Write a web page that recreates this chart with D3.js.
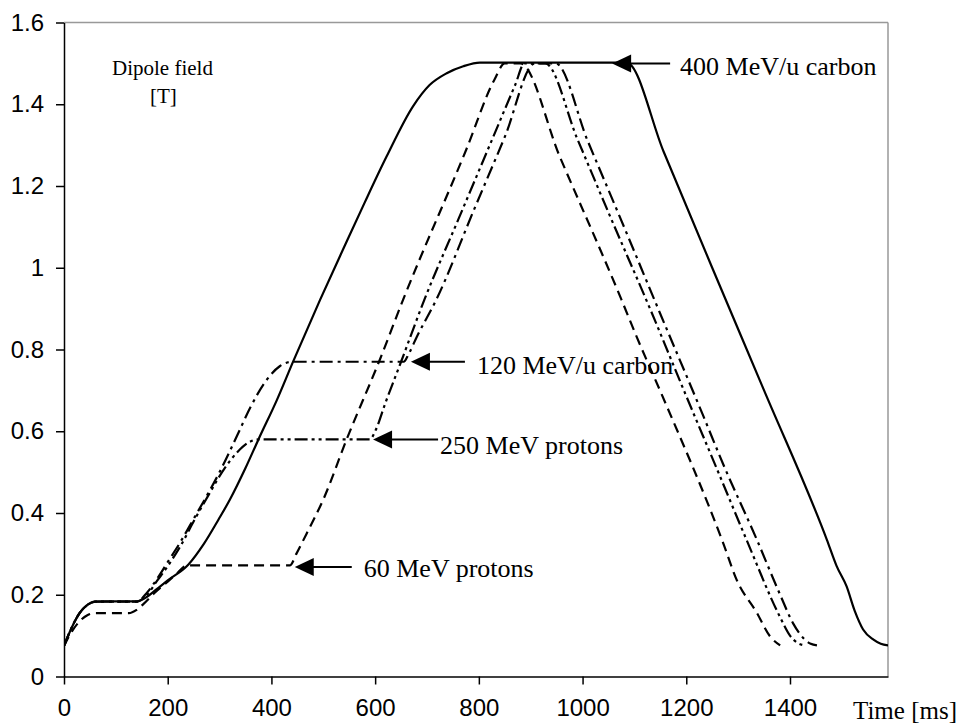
<!DOCTYPE html>
<html>
<head>
<meta charset="utf-8">
<script src="https://cdnjs.cloudflare.com/ajax/libs/d3/7.8.5/d3.min.js"></script>
<style>
  html, body { margin: 0; padding: 0; background: #fff; }
  svg { display: block; }
</style>
</head>
<body>
<svg id="chart" width="962" height="725"></svg>
<script>
// ---------------- DATA ----------------
const xTicks = [0, 200, 400, 600, 800, 1000, 1200, 1400];
const yTicks = [0, 0.2, 0.4, 0.6, 0.8, 1.0, 1.2, 1.4, 1.6];
const yTickLabels = ["0", "0.2", "0.4", "0.6", "0.8", "1", "1.2", "1.4", "1.6"];
const xMax = 1589;
const yMax = 1.6;

// [time ms, dipole field T]
const carbon400 = [[0,0.075],[15,0.12],[30,0.155],[45,0.175],[60,0.183],[80,0.184],[140,0.184],[160,0.195],[175,0.21],[200,0.235],[240,0.274],[270,0.325],[298,0.384],[320,0.433],[350,0.51],[375,0.58],[410,0.675],[442,0.771],[494,0.922],[540,1.05],[580,1.16],[622,1.272],[673,1.395],[705,1.447],[738,1.476],[770,1.493],[802,1.502],[1085,1.502],[1156,1.285],[1250,1.0],[1350,0.7],[1471,0.335],[1490,0.27],[1509,0.221],[1525,0.16],[1541,0.115],[1561,0.09],[1575,0.08],[1589,0.076]];
const carbon120 = [[0,0.075],[15,0.12],[30,0.155],[45,0.175],[60,0.183],[140,0.183],[160,0.205],[180,0.24],[200,0.28],[225,0.33],[252,0.39],[281,0.455],[300,0.5],[333,0.587],[360,0.66],[391,0.726],[416,0.759],[440,0.77],[655,0.77],[665,0.79],[680,0.83],[718,0.922],[790,1.14],[850,1.32],[908,1.5],[948,1.5],[1010,1.31],[1070,1.13],[1149,0.89],[1232,0.64],[1271,0.52],[1336,0.335],[1381,0.2],[1406,0.13],[1425,0.095],[1440,0.08],[1452,0.076]];
const protons250 = [[0,0.075],[15,0.12],[30,0.155],[45,0.175],[60,0.183],[140,0.183],[160,0.2],[180,0.235],[200,0.27],[225,0.32],[252,0.384],[281,0.449],[310,0.51],[335,0.55],[355,0.572],[375,0.58],[590,0.58],[600,0.6],[620,0.67],[650,0.77],[695,0.922],[760,1.117],[820,1.297],[870,1.447],[888,1.5],[928,1.5],[990,1.315],[1050,1.135],[1130,0.9],[1197,0.695],[1260,0.505],[1316,0.335],[1381,0.145],[1400,0.1],[1415,0.082],[1430,0.076]];
const protons60 = [[0,0.075],[15,0.11],[30,0.135],[45,0.15],[60,0.155],[125,0.155],[140,0.163],[152,0.176],[175,0.205],[200,0.232],[220,0.255],[237,0.272],[436,0.272],[448,0.3],[470,0.355],[500,0.433],[545,0.58],[609,0.775],[654,0.922],[776,1.29],[830,1.46],[850,1.5],[880,1.5],[956,1.272],[1075,0.922],[1104,0.832],[1153,0.689],[1271,0.327],[1297,0.237],[1336,0.156],[1361,0.099],[1381,0.076]];

const annLabels = ["400 MeV/u carbon", "120 MeV/u carbon", "250 MeV protons", "60 MeV protons"];
const annTime   = [1057, 669, 596, 445];
const annField  = [1.5, 0.77, 0.58, 0.268];

// ---------------- LAYOUT / STYLE ----------------
const plot = { left: 64, right: 888, top: 22.5, bottom: 676.5 };
const seriesStyles = [
  { data: carbon400,  dash: null },
  { data: carbon120,  dash: "13,5,3,5" },
  { data: protons250, dash: "13,4,3,4,3,4" },
  { data: protons60,  dash: "10,6" }
];
const annLayout = [
  { lineEnd: 58, textDx: 68, textDy: 12 },
  { lineEnd: 54, textDx: 66, textDy: 12 },
  { lineEnd: 65, textDx: 67, textDy: 15 },
  { lineEnd: 57, textDx: 69, textDy: 10 }
];
const sans = "'Liberation Sans', Arial, sans-serif";
const serif = "'Liberation Serif', 'Times New Roman', serif";

const svg = d3.select("#chart");
const x = d3.scaleLinear().domain([0, xMax]).range([plot.left, plot.right]);
const y = d3.scaleLinear().domain([0, yMax]).range([plot.bottom, plot.top]);

// frame (top & right grey)
svg.append("line").attr("x1", plot.left).attr("x2", plot.right).attr("y1", plot.top).attr("y2", plot.top)
  .attr("stroke", "#999").attr("stroke-width", 1.5);
svg.append("line").attr("x1", plot.right).attr("x2", plot.right).attr("y1", plot.top).attr("y2", plot.bottom)
  .attr("stroke", "#999").attr("stroke-width", 1.5);

// clip
svg.append("clipPath").attr("id", "clip").append("rect")
  .attr("x", plot.left).attr("y", plot.top - 3)
  .attr("width", plot.right - plot.left).attr("height", plot.bottom - plot.top + 3);

// series
const line = d3.line().x(d => x(d[0])).y(d => y(d[1])).curve(d3.curveMonotoneX);
const g = svg.append("g").attr("clip-path", "url(#clip)");
seriesStyles.forEach(s => {
  g.append("path").datum(s.data)
    .attr("d", line)
    .attr("fill", "none")
    .attr("stroke", "#000")
    .attr("stroke-width", 2.2)
    .attr("stroke-linejoin", "round")
    .attr("stroke-dasharray", s.dash);
});

// axes
const xAxis = d3.axisBottom(x).tickValues(xTicks).tickSize(8).tickSizeOuter(0).tickPadding(14)
  .tickFormat(d3.format("d"));
const gx = svg.append("g").attr("transform", `translate(0,${plot.bottom})`).call(xAxis);
gx.select(".domain").attr("stroke", "#000").attr("stroke-width", 1.5);
gx.selectAll(".tick line").attr("stroke", "#000").attr("stroke-width", 1.5);
gx.selectAll(".tick text").attr("font-family", sans).attr("font-size", 24).attr("fill", "#000");

const yAxis = d3.axisLeft(y).tickValues(yTicks).tickSize(8).tickSizeOuter(0).tickPadding(12)
  .tickFormat((d, i) => yTickLabels[i]);
const gy = svg.append("g").attr("transform", `translate(${plot.left},0)`).call(yAxis);
gy.select(".domain").attr("stroke", "#000").attr("stroke-width", 1.5);
gy.selectAll(".tick line").attr("stroke", "#000").attr("stroke-width", 1.5);
gy.selectAll(".tick text").attr("font-family", sans).attr("font-size", 24).attr("fill", "#000");

// axis titles
svg.append("text").attr("x", 853).attr("y", 719).attr("font-family", serif).attr("font-size", 25)
  .attr("fill", "#000").text("Time [ms]");
svg.append("text").attr("x", 112).attr("y", 75).attr("font-family", serif).attr("font-size", 21)
  .attr("fill", "#000").text("Dipole field");
svg.append("text").attr("x", 150).attr("y", 103).attr("font-family", serif).attr("font-size", 21)
  .attr("fill", "#000").text("[T]");

// annotations (arrows)
annLabels.forEach((lab, i) => {
  const tx = x(annTime[i]), ty = y(annField[i]);
  const L = annLayout[i];
  svg.append("path")
    .attr("d", `M${tx},${ty} L${tx + 19},${ty - 9} L${tx + 19},${ty + 9} Z`)
    .attr("fill", "#000");
  svg.append("line").attr("x1", tx + 18).attr("x2", tx + L.lineEnd)
    .attr("y1", ty).attr("y2", ty).attr("stroke", "#000").attr("stroke-width", 2);
  svg.append("text").attr("x", tx + L.textDx).attr("y", ty + L.textDy)
    .attr("font-family", serif).attr("font-size", 26).attr("fill", "#000").text(lab);
});
</script>
</body>
</html>
